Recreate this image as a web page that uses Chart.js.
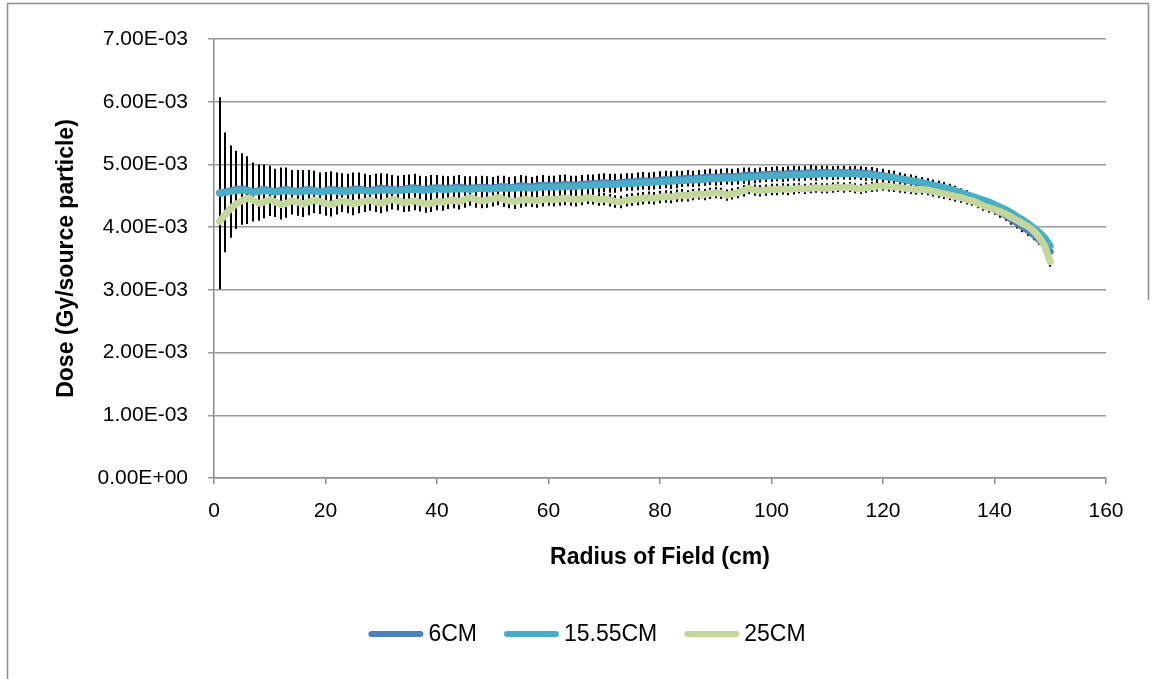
<!DOCTYPE html>
<html><head><meta charset="utf-8">
<script src="https://cdn.jsdelivr.net/npm/chart.js@4"></script>
<style>html,body{margin:0;padding:0;background:#fff}#wrap{position:relative;width:1158px;height:679px}</style>
</head><body><div id="wrap"><canvas id="c" width="1158" height="679"></canvas></div>
<script>
// Values are in units of 1E-03 Gy/source particle
const UNIT = 1e-3;
const radius = [1,2,3,4,5,6,7,8,9,10,11,12,13,14,15,16,17,18,19,20,21,22,23,24,25,26,27,28,29,30,
31,32,33,34,35,36,37,38,39,40,41,42,43,44,45,46,47,48,49,50,51,52,53,54,55,56,57,58,59,60,
61,62,63,64,65,66,67,68,69,70,71,72,73,74,75,76,77,78,79,80,81,82,83,84,85,86,87,88,89,90,
91,92,93,94,95,96,97,98,99,100,101,102,103,104,105,106,107,108,109,110,111,112,113,114,115,116,117,118,119,120,
121,122,123,124,125,126,127,128,129,130,131,132,133,134,135,136,137,138,139,140,141,142,143,144,145,146,147,148,149,150];

const dose6CM = [4.54,4.56,4.58,4.60,4.61,4.59,4.56,4.58,4.60,4.58,
4.56,4.59,4.60,4.58,4.57,4.59,4.60,4.58,4.57,4.58,
4.60,4.59,4.58,4.58,4.60,4.61,4.59,4.58,4.60,4.62,
4.61,4.60,4.59,4.61,4.62,4.63,4.61,4.60,4.62,4.63,
4.62,4.61,4.63,4.64,4.62,4.62,4.63,4.64,4.63,4.62,
4.64,4.65,4.63,4.64,4.66,4.65,4.64,4.66,4.67,4.66,
4.66,4.67,4.68,4.67,4.67,4.68,4.69,4.69,4.70,4.71,
4.70,4.70,4.71,4.72,4.72,4.73,4.74,4.73,4.74,4.75,
4.76,4.75,4.76,4.77,4.78,4.77,4.78,4.79,4.80,4.79,
4.80,4.81,4.80,4.81,4.82,4.83,4.82,4.83,4.84,4.84,
4.85,4.84,4.85,4.86,4.85,4.86,4.87,4.86,4.87,4.87,
4.86,4.87,4.87,4.86,4.87,4.86,4.85,4.85,4.83,4.82,
4.80,4.79,4.77,4.75,4.74,4.72,4.70,4.68,4.66,4.64,
4.62,4.59,4.56,4.52,4.49,4.45,4.41,4.37,4.33,4.29,
4.24,4.19,4.13,4.07,4.01,3.95,3.88,3.80,3.72,3.61];

const dose1555CM = [4.55,4.55,4.57,4.58,4.59,4.58,4.55,4.57,4.58,4.57,
4.56,4.57,4.58,4.57,4.56,4.57,4.58,4.57,4.56,4.57,
4.58,4.57,4.57,4.57,4.58,4.59,4.58,4.57,4.58,4.59,
4.59,4.58,4.58,4.59,4.60,4.60,4.59,4.59,4.60,4.61,
4.60,4.60,4.61,4.61,4.61,4.60,4.61,4.62,4.61,4.61,
4.62,4.62,4.62,4.62,4.63,4.63,4.62,4.63,4.64,4.64,
4.64,4.64,4.65,4.65,4.65,4.66,4.66,4.67,4.67,4.68,
4.68,4.68,4.69,4.69,4.70,4.70,4.71,4.71,4.72,4.72,
4.73,4.73,4.74,4.74,4.75,4.75,4.76,4.76,4.77,4.77,
4.78,4.78,4.78,4.79,4.79,4.80,4.80,4.81,4.81,4.82,
4.82,4.82,4.83,4.83,4.83,4.84,4.84,4.84,4.85,4.85,
4.85,4.85,4.85,4.85,4.85,4.84,4.84,4.83,4.82,4.81,
4.80,4.79,4.77,4.76,4.74,4.73,4.71,4.69,4.67,4.65,
4.63,4.61,4.58,4.55,4.52,4.49,4.46,4.43,4.40,4.36,
4.32,4.28,4.23,4.17,4.12,4.06,3.99,3.92,3.83,3.70];

const dose25CM = [4.09,4.20,4.30,4.37,4.42,4.46,4.43,4.38,4.40,4.44,
4.40,4.36,4.38,4.42,4.40,4.37,4.40,4.43,4.41,4.38,
4.36,4.39,4.42,4.40,4.37,4.39,4.41,4.43,4.40,4.38,
4.41,4.44,4.42,4.39,4.40,4.42,4.39,4.37,4.38,4.41,
4.40,4.42,4.43,4.41,4.44,4.47,4.44,4.42,4.43,4.45,
4.47,4.44,4.42,4.41,4.43,4.44,4.43,4.42,4.44,4.45,
4.44,4.45,4.46,4.45,4.44,4.45,4.47,4.46,4.44,4.45,
4.43,4.41,4.40,4.43,4.44,4.45,4.46,4.47,4.46,4.48,
4.49,4.48,4.50,4.51,4.50,4.52,4.53,4.52,4.54,4.55,
4.54,4.51,4.53,4.55,4.58,4.62,4.59,4.58,4.59,4.60,
4.60,4.61,4.60,4.61,4.62,4.61,4.62,4.63,4.62,4.62,
4.63,4.64,4.63,4.64,4.62,4.61,4.63,4.64,4.65,4.66,
4.65,4.64,4.63,4.62,4.61,4.60,4.60,4.59,4.57,4.55,
4.53,4.51,4.49,4.47,4.44,4.42,4.38,4.34,4.31,4.28,
4.25,4.21,4.16,4.11,4.06,4.01,3.94,3.84,3.70,3.45];

// Error bar half-lengths (same unit)
const err6CM = [1.53,0.95,0.72,0.62,0.57,0.54,0.47,0.42,0.40,0.40,
0.37,0.36,0.35,0.33,0.34,0.32,0.31,0.32,0.30,0.30,
0.29,0.28,0.28,0.27,0.27,0.26,0.26,0.25,0.25,0.24,
0.24,0.23,0.23,0.22,0.22,0.22,0.21,0.21,0.21,0.20,
0.20,0.20,0.19,0.19,0.19,0.19,0.18,0.18,0.18,0.18,
0.18,0.17,0.17,0.17,0.17,0.17,0.16,0.16,0.16,0.16,
0.16,0.16,0.16,0.15,0.15,0.15,0.15,0.15,0.15,0.15,
0.15,0.15,0.14,0.14,0.14,0.14,0.14,0.14,0.14,0.14,
0.14,0.14,0.14,0.13,0.13,0.13,0.13,0.13,0.13,0.13,
0.13,0.13,0.13,0.13,0.13,0.12,0.12,0.12,0.12,0.12,
0.12,0.12,0.12,0.12,0.12,0.12,0.12,0.12,0.11,0.11,
0.11,0.11,0.11,0.11,0.11,0.11,0.11,0.11,0.11,0.11,
0.11,0.11,0.10,0.10,0.10,0.10,0.10,0.10,0.10,0.10,
0.10,0.10,0.10,0.10,0.10,0.09,0.09,0.09,0.09,0.09,
0.09,0.09,0.09,0.09,0.09,0.09,0.09,0.08,0.08,0.08];

const err25CM = [0.95,0.60,0.47,0.40,0.37,0.35,0.31,0.28,0.26,0.26,
0.24,0.24,0.23,0.22,0.22,0.21,0.21,0.21,0.20,0.20,
0.19,0.19,0.18,0.18,0.18,0.17,0.17,0.17,0.16,0.16,
0.16,0.16,0.15,0.15,0.15,0.15,0.14,0.14,0.14,0.14,
0.14,0.13,0.13,0.13,0.13,0.13,0.13,0.12,0.12,0.12,
0.12,0.12,0.12,0.12,0.12,0.11,0.11,0.11,0.11,0.11,
0.11,0.11,0.11,0.11,0.11,0.10,0.10,0.10,0.10,0.10,
0.10,0.10,0.10,0.10,0.10,0.10,0.10,0.10,0.10,0.10,
0.10,0.10,0.10,0.10,0.09,0.09,0.09,0.09,0.09,0.09,
0.09,0.09,0.09,0.09,0.09,0.09,0.09,0.09,0.09,0.09,
0.09,0.09,0.09,0.09,0.08,0.08,0.08,0.08,0.08,0.08,
0.08,0.08,0.08,0.08,0.08,0.08,0.08,0.08,0.08,0.08,
0.08,0.08,0.08,0.08,0.08,0.08,0.08,0.08,0.08,0.08,
0.08,0.08,0.08,0.08,0.08,0.08,0.08,0.08,0.08,0.08,
0.08,0.08,0.08,0.08,0.08,0.08,0.08,0.08,0.08,0.08];

const seriesLabels = ['6CM', '15.55CM', '25CM'];
const seriesColors = ['#4F81BD', '#4BACC6', '#C3D69B'];
const xTitle = 'Radius of Field (cm)';
const yTitle = 'Dose (Gy/source particle)';

const FONT = '"Liberation Sans", Arial, sans-serif';

function toPoints(vals){ return vals.map((v,i)=>({x: radius[i], y: v*UNIT})); }
function sci(v){
  if (Math.abs(v) < 1e-12) return '0.00E+00';
  const e = Math.floor(Math.log10(Math.abs(v)) + 1e-9);
  const m = v / Math.pow(10, e);
  const ae = Math.abs(e);
  return m.toFixed(2) + 'E' + (e < 0 ? '-' : '+') + (ae < 10 ? '0' + ae : '' + ae);
}

const bgPlugin = {
  id: 'bg',
  beforeDraw(chart){
    const c = chart.ctx; c.save(); c.fillStyle = '#fff'; c.fillRect(0,0,chart.width,chart.height); c.restore();
  },
  afterDraw(chart){
    const c = chart.ctx; c.save();
    c.strokeStyle = '#8C8C8C'; c.lineWidth = 1.5;
    c.beginPath();
    c.moveTo(7.5, 679); c.lineTo(7.5, 3.5); c.lineTo(1148.5, 3.5); c.lineTo(1148.5, 300);
    c.stroke();
    c.restore();
  }
};

const errorBarPlugin = {
  id: 'errorBars',
  beforeDatasetsDraw(chart){
    const {ctx, scales} = chart;
    const xs = scales.x, ys = scales.y;
    ctx.save();
    ctx.strokeStyle = '#000'; ctx.lineWidth = 2; ctx.lineCap = 'butt';
    chart.data.datasets.forEach(ds => {
      if (!ds.errorValues) return;
      ctx.beginPath();
      ds.data.forEach((p, i) => {
        const e = ds.errorValues[i] * UNIT;
        const px = Math.round(xs.getPixelForValue(p.x));
        ctx.moveTo(px, ys.getPixelForValue(p.y + e));
        ctx.lineTo(px, ys.getPixelForValue(p.y - e));
      });
      ctx.stroke();
    });
    ctx.restore();
  }
};

const legendPlugin = {
  id: 'customLegend',
  afterDraw(chart){
    const c = chart.ctx; c.save();
    c.font = '23px ' + FONT;
    const lineLen = 55, gapText = 5, gapItem = 27, cy = 634, cx = 587;
    const items = chart.data.datasets.map(d => ({label: d.label, color: d.borderColor, w: c.measureText(d.label).width}));
    const total = items.reduce((s,it)=>s + lineLen + gapText + it.w, 0) + gapItem*(items.length-1);
    let x = cx - total/2;
    items.forEach(it => {
      c.strokeStyle = it.color; c.lineWidth = 6; c.lineCap = 'round';
      c.beginPath(); c.moveTo(x + 3, cy); c.lineTo(x + lineLen - 3, cy); c.stroke();
      c.fillStyle = '#000'; c.textBaseline = 'middle'; c.textAlign = 'left';
      c.fillText(it.label, x + lineLen + gapText, cy + 1);
      x += lineLen + gapText + it.w + gapItem;
    });
    c.restore();
  }
};

const ds = (i, vals, errs, order) => ({
  label: seriesLabels[i],
  data: toPoints(vals),
  borderColor: seriesColors[i],
  backgroundColor: seriesColors[i],
  borderWidth: 7,
  pointRadius: 0,
  pointHoverRadius: 0,
  tension: 0,
  borderCapStyle: 'round',
  borderJoinStyle: 'round',
  fill: false,
  order: order,
  errorValues: errs
});

new Chart(document.getElementById('c'), {
  type: 'line',
  data: {
    datasets: [
      ds(0, dose6CM, err6CM, 3),
      ds(1, dose1555CM, null, 2),
      ds(2, dose25CM, err25CM, 1)
    ]
  },
  options: {
    responsive: false,
    animation: false,
    devicePixelRatio: 1,
    layout: { padding: { left: 0, top: 39, right: 52, bottom: 0 } },
    plugins: { legend: { display: false }, tooltip: { enabled: false } },
    scales: {
      x: {
        type: 'linear', min: 0, max: 160,
        ticks: { stepSize: 20, color: '#000', font: { family: FONT, size: 21 }, padding: 15, maxRotation: 0 },
        grid: { drawOnChartArea: false, drawTicks: true, tickLength: 6, color: '#8C8C8C', lineWidth: 1.5 },
        border: { color: '#8C8C8C', width: 1.5 },
        title: { display: true, text: xTitle, color: '#000', font: { family: FONT, size: 23, weight: 'bold' }, padding: { top: 0, bottom: 108 } },
        afterFit(scale){ scale.height = 201; }
      },
      y: {
        type: 'linear', min: 0, max: 0.007,
        ticks: { stepSize: 0.001, color: '#000', font: { family: FONT, size: 21 }, padding: 20, callback: (v) => sci(v) },
        grid: { color: '#9A9A9A', lineWidth: 1.5, tickLength: 6 },
        border: { color: '#8C8C8C', width: 1.5 },
        title: { display: true, text: yTitle, color: '#000', font: { family: FONT, size: 23, weight: 'bold' }, padding: { top: 53, bottom: 0 } },
        afterFit(scale){ scale.width = 214; }
      }
    }
  },
  plugins: [bgPlugin, errorBarPlugin, legendPlugin]
});
</script></body></html>
